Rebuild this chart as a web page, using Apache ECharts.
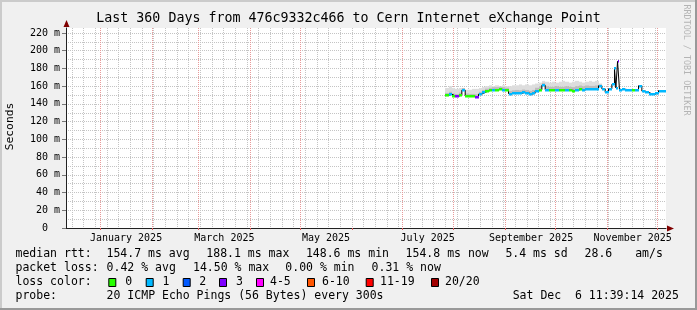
<!DOCTYPE html>
<html><head><meta charset="utf-8">
<script src="https://cdn.jsdelivr.net/npm/echarts@6/dist/echarts.min.js"></script>
<style>html,body{margin:0;padding:0;background:#f0f0f0;}#c{width:697px;height:310px;}</style>
</head><body><div id="c"></div>
<script>
// ---------- data ----------
const endTime = '2025-12-06 11:39:14';
const spanDays = 360;
const monthStarts = ['2025-01-01','2025-02-01','2025-03-01','2025-04-01','2025-05-01','2025-06-01','2025-07-01','2025-08-01','2025-09-01','2025-10-01','2025-11-01','2025-12-01'];
const labelMonths = ['2025-01-01','2025-03-01','2025-05-01','2025-07-01','2025-09-01','2025-11-01'];
const monthLabels = ['January 2025','March 2025','May 2025','July 2025','September 2025','November 2025'];
const yTicks = [0,20,40,60,80,100,120,140,160,180,200,220];

const dates = ['2025-07-27','2025-07-29','2025-07-31','2025-08-02','2025-08-04','2025-08-06','2025-08-08','2025-08-10','2025-08-12','2025-08-14','2025-08-16','2025-08-18','2025-08-20','2025-08-22','2025-08-24','2025-08-26','2025-08-28','2025-08-30','2025-09-01','2025-09-03','2025-09-05','2025-09-07','2025-09-09','2025-09-11','2025-09-13','2025-09-15','2025-09-17','2025-09-19','2025-09-21','2025-09-23','2025-09-25','2025-09-27','2025-09-29','2025-10-01','2025-10-03','2025-10-05','2025-10-07','2025-10-09','2025-10-11','2025-10-13','2025-10-15','2025-10-17','2025-10-19','2025-10-21','2025-10-23','2025-10-25','2025-10-27','2025-10-29','2025-10-31','2025-11-02','2025-11-04','2025-11-05 00:00','2025-11-05 14:00','2025-11-06 10:00','2025-11-07 10:00','2025-11-08 14:00','2025-11-09 12:00','2025-11-10','2025-11-12','2025-11-14','2025-11-16','2025-11-18','2025-11-20','2025-11-22','2025-11-24','2025-11-26','2025-11-28','2025-11-30','2025-12-02','2025-12-04','2025-12-06 11:00'];

const median = [150.5,149.5,151,149,148.5,150,155.5,149,148.5,148.5,148,151,153,154.5,155.5,156,156,156.5,156,155.5,151.5,152,152.5,152,153,152.5,151,152,154.5,156,161,156,155.5,155.5,155.5,155.5,155.5,155.5,155.5,155,155.5,156.5,156,157,156.5,156.5,157,160.5,157,153,157,162,163,180,158,188,156,156,156.5,156,156,155.5,156,160.5,154.5,153,151.5,151,152.5,155,155];

const loss = [0,0,1,0,3,0,1,0,0,0,3, 1,1,0, 0,1,0,0,1,0, 1,1,1,1,1,1,1,1, 1,0, 1, 1,0,0,1,0,0,1,0,0,1,0, 1,1,1,1,1,1,1,1,1, 1,1,1,1,3,1, 1,1,1,1,0,1,1,1,1,1,1,1,1,1];

const smokeLo = [149.7,148.7,150.2,148.2,147.7,149.2, 154.7,148.2,147.7,147.7,147.2, 150.2,152.2,153.7, 154.7,155.2,155.2,155.7,155.2,154.7, 150.7,151.2,151.7,151.2,152.2,151.7,150.2,151.2, 153.7,155.2,160.2,155.2,154.7,154.7,154.7,154.7,154.7,154.7,154.7,154.2,154.7,155.7,155.2,156.2,155.7,155.7,156.2, 159.7];
const smokeMid = [153.5,152.5,154,152,151.5,153, 158,152,151.5,151.5,151, 154,156,157.5, 158.5,159,159,159.5,159,158.5, 155,155.5,156,155.5,156.5,156,155,156, 158.5,160,164,160,159.5,159.5,160,159.5,159.5,160,159.5,159,160,161,160,161,160.5,160.5,161, 162];
const smokeHi = [159,158,160,158,157,158, 158,156,156,157,157, 158,159,160, 161,160,161,160,161,160, 160,161,161,162,161,162,161,162, 163,164,166,165,164,165,164,165,166,165,164,165,166,165,164,165,166,165,166, 163];

const lossColors = ['#26ff00','#00b8ff','#0059ff','#7e00ff','#ff00ff','#ff5500','#ff0000','#a10000'];
const lossLabels = ['0','1','2','3','4-5','6-10','11-19','20/20'];

// ---------- helpers ----------
const ts = s => Date.parse(s.length === 10 ? s + 'T00:00:00Z' : s.replace(' ', 'T') + (s.length === 16 ? ':00Z' : 'Z'));
const DAY = 86400000;
const tEnd = ts(endTime);
const tStart = tEnd - spanDays * DAY;
const T = dates.map(ts);

const monthTicks = monthStarts.map(ts);
const labelVals = labelMonths.map(s => ts(s) + 15.5 * DAY);
const labelMap = {};
labelVals.forEach((v, i) => { labelMap[v] = monthLabels[i]; });

// weekly minor grid (Sundays)
const weekTicks = [];
for (let t = ts('2024-12-15'); t < tEnd; t += 7 * DAY) weekTicks.push(t);

const smokeData = [];
for (let i = 1; i < smokeHi.length; i++) smokeData.push([T[i - 1], T[i], smokeLo[i], smokeMid[i], smokeHi[i]]);

const segData = [];
for (let i = 1; i < T.length; i++) segData.push([T[i - 1], T[i], median[i], loss[i]]);

const FONT = '"DejaVu Sans Mono", monospace';
const RED = '#e89a9a';
const GREY = '#c4c4c4';

// ---------- chart ----------
const chart = echarts.init(document.getElementById('c'), null, {renderer: 'canvas'});

function txt(x, y, s, size, extra) {
  return {type: 'text', x: x, y: y, silent: true,
    style: Object.assign({text: s, font: size + 'px ' + FONT, fill: '#000', align: 'left', verticalAlign: 'middle'}, extra || {})};
}

const graphics = [
  {type: 'rect', shape: {x: 0, y: 0, width: 697, height: 2}, style: {fill: '#cbcbcb'}, silent: true},
  {type: 'rect', shape: {x: 0, y: 0, width: 2, height: 310}, style: {fill: '#cbcbcb'}, silent: true},
  {type: 'rect', shape: {x: 0, y: 308, width: 697, height: 2}, style: {fill: '#999'}, silent: true},
  {type: 'rect', shape: {x: 695, y: 0, width: 2, height: 310}, style: {fill: '#999'}, silent: true},
  txt(348.5, 18.5, 'Last 360 Days from 476c9332c466 to Cern Internet eXchange Point', 13.3, {align: 'center'}),
  Object.assign(txt(0, 0, 'Seconds', 11.3, {align: 'center'}), {x: 10, y: 126.5, rotation: Math.PI / 2}),
  Object.assign(txt(0, 0, 'RRDTOOL / TOBI OETIKER', 8.4, {align: 'center', fill: '#b4b4b4'}), {x: 686.5, y: 60, rotation: -Math.PI / 2}),
  {type: 'polygon', shape: {points: [[66.5, 20], [63.5, 27], [69.5, 27]]}, style: {fill: '#800000'}, silent: true},
  {type: 'polygon', shape: {points: [[674, 228.5], [667, 225.5], [667, 231.5]]}, style: {fill: '#800000'}, silent: true},
  txt(15.5, 254.5, 'median rtt:', 11.5), txt(106.5, 254.5, '154.7 ms avg', 11.5), txt(206.3, 254.5, '188.1 ms max', 11.5),
  txt(305.9, 254.5, '148.6 ms min', 11.5), txt(405.6, 254.5, '154.8 ms now', 11.5), txt(505.4, 254.5, '5.4 ms sd', 11.5),
  txt(584.6, 254.5, '28.6', 11.5), txt(635.2, 254.5, 'am/s', 11.5),
  txt(15.5, 268, 'packet loss:', 11.5), txt(106.6, 268, '0.42 % avg', 11.5), txt(193, 268, '14.50 % max', 11.5),
  txt(285.3, 268, '0.00 % min', 11.5), txt(371.6, 268, '0.31 % now', 11.5),
  txt(15.5, 282, 'loss color:', 11.5),
  txt(15.5, 296, 'probe:', 11.5), txt(106.6, 296, '20 ICMP Echo Pings (56 Bytes) every 300s', 11.5),
  txt(512.7, 296, 'Sat Dec  6 11:39:14 2025', 11.5)
];
const boxX = [108.3, 145.7, 182.7, 219, 256, 307, 365.7, 431];
const labX = [125.3, 162.6, 199.3, 236, 270, 322, 380, 445];
lossLabels.forEach((l, i) => {
  graphics.push({type: 'rect', shape: {x: boxX[i] + 0.5, y: 278.5, width: 7, height: 8}, style: {fill: lossColors[i], stroke: '#000', lineWidth: 1}, silent: true});
  graphics.push(txt(labX[i], 282, l, 11.5));
});

const option = {
  animation: false,
  backgroundColor: '#f0f0f0',
  grid: {left: 66, right: 31, top: 28, bottom: 82, show: true, backgroundColor: '#ffffff', borderWidth: 0},
  xAxis: [
    {type: 'value', min: tStart, max: tEnd, position: 'bottom',
      axisLine: {show: true, lineStyle: {color: '#222', width: 1}},
      axisTick: {show: true, customValues: monthTicks, length: 2, lineStyle: {color: '#e06060'}},
      axisLabel: {show: true, customValues: labelVals, margin: 5, color: '#000', fontFamily: '"DejaVu Sans Mono"', fontSize: 10,
        formatter: v => labelMap[v] || ''},
      splitLine: {show: true, lineStyle: {color: RED, width: 1, type: [1, 1]}}
    },
    {type: 'value', min: tStart, max: tEnd, position: 'top',
      axisLine: {show: false}, axisLabel: {show: false},
      axisTick: {show: false, customValues: weekTicks},
      splitLine: {show: true, lineStyle: {color: GREY, width: 1, type: [1, 1]}}
    }
  ],
  yAxis: [
    {type: 'value', min: 0, max: 200 / 0.8864, interval: 20,
      axisLine: {show: true, lineStyle: {color: '#222'}},
      axisTick: {show: true, length: 4, lineStyle: {color: '#777'}},
      axisLabel: {margin: 6, color: '#000', fontFamily: '"DejaVu Sans Mono"', fontSize: 10, showMaxLabel: false,
        formatter: v => yTicks.indexOf(v) < 0 ? '' : (v === 0 ? '0  ' : v + ' m')},
      splitLine: {show: true, showMaxLine: false, lineStyle: {color: RED, width: 1, type: [1, 1]}}
    },
    {type: 'value', min: 0, max: 200 / 0.8864, interval: 10,
      axisLine: {show: false}, axisTick: {show: false}, axisLabel: {show: false},
      splitLine: {show: true, showMaxLine: false, lineStyle: {color: GREY, width: 1, type: [1, 1]}}
    }
  ],
  series: [
    {type: 'custom', name: 'smoke', silent: true, z: 2,
      encode: {x: [0, 1], y: [2, 3, 4]},
      data: smokeData,
      renderItem: (params, api) => {
        const x0 = Math.round(api.coord([api.value(0), 0])[0]);
        const x1 = Math.round(api.coord([api.value(1), 0])[0]);
        const yLo = api.coord([0, api.value(2)])[1];
        const yMid = api.coord([0, api.value(3)])[1];
        const yHi = api.coord([0, api.value(4)])[1];
        return {type: 'group', children: [
          {type: 'rect', shape: {x: x0, y: yHi, width: x1 - x0, height: yMid - yHi}, style: {fill: '#dddddd'}},
          {type: 'rect', shape: {x: x0, y: yMid, width: x1 - x0, height: yLo - yMid}, style: {fill: '#bdbdbd'}}
        ]};
      }
    },
    {type: 'line', name: 'median', step: 'start', symbol: 'none', silent: true,
      lineStyle: {color: '#000', width: 1}, data: T.map((t, i) => [t, median[i]]), z: 3},
    {type: 'custom', name: 'loss', silent: true, z: 4,
      encode: {x: [0, 1], y: 2},
      data: segData,
      renderItem: (params, api) => {
        const p0 = api.coord([api.value(0), api.value(2)]);
        const p1 = api.coord([api.value(1), api.value(2)]);
        const x0 = Math.round(p0[0]), x1 = Math.round(p1[0]);
        return {type: 'rect', shape: {x: x0, y: Math.round(p0[1]) - 1, width: Math.max(x1 - x0, 1), height: 2.5},
          style: {fill: lossColors[api.value(3)]}};
      }
    }
  ],
  graphic: graphics
};
chart.setOption(option);
</script></body></html>
